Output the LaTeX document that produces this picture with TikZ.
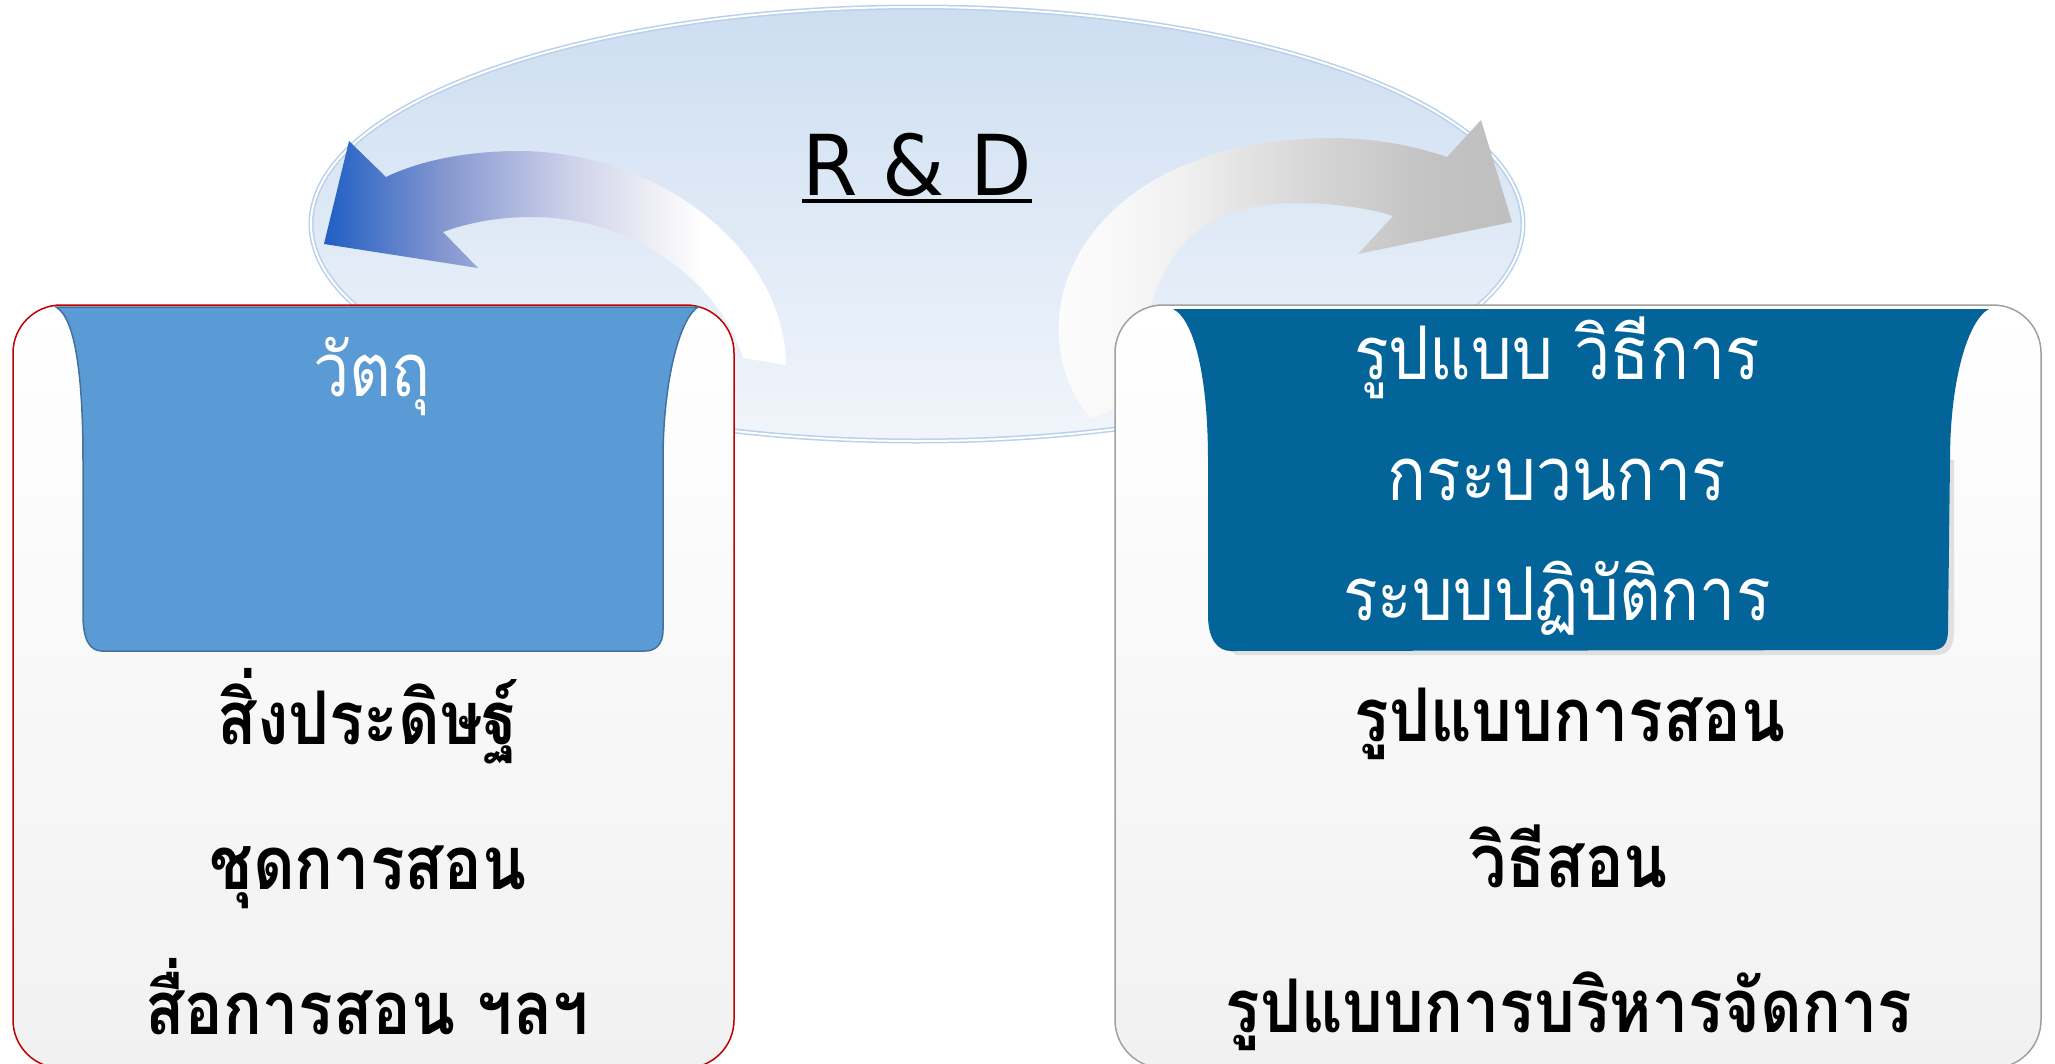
\documentclass[tikz,border=0pt]{standalone}
\usepackage{fontspec}
\newfontfamily\thai[Script=Thai, FakeStretch=0.87]{Loma}
\newfontfamily\dejavu[FakeStretch=0.95]{DejaVu Sans}
\definecolor{ellTop}{RGB}{205,222,241}
\definecolor{ellBot}{RGB}{241,245,251}
\definecolor{ellLine}{RGB}{184,208,236}
\definecolor{arrBlue}{RGB}{31,95,196}
\definecolor{arrMid}{RGB}{133,151,208}
\definecolor{arrLight}{RGB}{205,209,234}
\definecolor{arrPale}{RGB}{238,238,245}
\definecolor{leftBan}{RGB}{91,155,213}
\definecolor{leftBanLine}{RGB}{65,113,156}
\definecolor{rightBan}{RGB}{3,100,154}
\definecolor{redLine}{RGB}{192,0,0}
\definecolor{grayLine}{RGB}{160,160,160}
\definecolor{boxBot}{RGB}{241,241,241}
\definecolor{gA}{RGB}{248,248,248}
\definecolor{gB}{RGB}{240,240,240}
\definecolor{gC}{RGB}{216,216,216}
\definecolor{gD}{RGB}{195,195,195}
\definecolor{gE}{RGB}{191,191,191}
\pgfdeclarehorizontalshading{blueArrowShade}{100bp}{color(0bp)=(arrBlue); color(25bp)=(arrBlue); color(38bp)=(arrMid); color(51.6bp)=(arrLight); color(60.6bp)=(arrPale); color(66bp)=(white); color(100bp)=(white)}
\pgfdeclarehorizontalshading{grayArrowShade}{100bp}{color(0bp)=(white); color(25bp)=(white); color(35.9bp)=(gA); color(42.1bp)=(gB); color(54bp)=(gC); color(66.7bp)=(gD); color(75bp)=(gE); color(100bp)=(gE)}
\tikzset{
  outerbox/.style={rounded corners=48bp, top color=white, bottom color=boxBot, line width=1.5bp},
  bantext/.style={text=white, font=\thai\fontsize{74bp}{84bp}\selectfont, anchor=base, inner sep=0pt},
  lowtext/.style={text=black, font=\thai\bfseries\fontsize{74bp}{84bp}\selectfont, anchor=base, inner sep=0pt},
}
\begin{document}
\begin{tikzpicture}[x=1bp,y=-1bp]
\useasboundingbox (0,0) rectangle (2055,1063);
\clip (0,0) rectangle (2055,1063);
% central ellipse
\path[top color=ellTop, bottom color=ellBot, draw=ellLine, line width=1.5bp, double=white, double distance=2bp]
  (917,224) ellipse [x radius=606, y radius=217];
\node[font=\dejavu\fontsize{84bp}{90bp}\selectfont, anchor=base, inner sep=0pt] (rd) at (917,195) {R \& D};
\draw[line width=3.5bp] ([yshift=-6bp]rd.base west) -- ([yshift=-6bp]rd.base east);
% left arrow
\path[shading=blueArrowShade]
  (786,365) .. controls (785,250) and (660,152) .. (520,151)
  .. controls (460,151) and (415,163) .. (386,177)
  -- (349,141) -- (324,244) -- (478,268) -- (443,232)
  .. controls (470,222) and (500,217) .. (533,217)
  .. controls (620,217) and (715,270) .. (743,358) -- cycle;
% right arrow
\path[shading=grayArrowShade]
  (1090,418) .. controls (1010,320) and (1080,140) .. (1330,138)
  .. controls (1375,138) and (1415,146) .. (1447,157)
  -- (1481,120) -- (1512,222) -- (1358,254) -- (1393,216)
  .. controls (1370,208) and (1330,203) .. (1297,203)
  .. controls (1210,203) and (1140,240) .. (1140,400) -- cycle;
% outer boxes
\path[outerbox, draw=redLine] (13,305) rectangle (734,1068);
\path[outerbox, draw=grayLine] (1115,305) rectangle (2041,1068);
% banners
\path[fill=leftBan, draw=leftBanLine, line width=1.5bp]
  (56,307) -- (698,307) .. controls (680,318) and (663,380) .. (663,460)
  -- (663,630) .. controls (663,645) and (655,651) .. (645,651)
  -- (102,651) .. controls (90,651) and (83,640) .. (83,615)
  -- (83,460) .. controls (83,380) and (76,318) .. (56,307) -- cycle;
\path[fill=black!12] (1236,655) -- (1936,655) .. controls (1948,655) and (1954,648) .. (1954,630) -- (1954,460) -- (1950,460) -- (1948,630) -- (1932,650) -- (1231,651) -- cycle;
\path[fill=rightBan]
  (1173,309) -- (1989,309) .. controls (1968,320) and (1950,380) .. (1950,460)
  -- (1948,630) .. controls (1948,645) and (1942,650) .. (1932,650)
  -- (1231,651) .. controls (1218,651) and (1208,640) .. (1208,615)
  -- (1208,460) .. controls (1208,380) and (1195,320) .. (1173,309) -- cycle;
% texts left
\node[bantext] (l1) at (372,396) {วัตถุ};
\node[lowtext] (l2) at (368,744) {สิ่งประดิษฐ์};
\node[lowtext] (l3) at (368,889) {ชุดการสอน};
\node[lowtext] (l4) at (367,1034) {สื่อการสอน ฯลฯ};
% texts right
\node[bantext] (r1) at (1557,379) {รูปแบบ วิธีการ};
\node[bantext] (r2) at (1557,500) {กระบวนการ};
\node[bantext] (r3) at (1557,620) {ระบบปฏิบัติการ};
\node[lowtext] (r4) at (1570,741) {รูปแบบการสอน};
\node[lowtext] (r5) at (1569,887) {วิธีสอน};
\node[lowtext] (r6) at (1569,1032) {รูปแบบการบริหารจัดการ};
\end{tikzpicture}
\end{document}
